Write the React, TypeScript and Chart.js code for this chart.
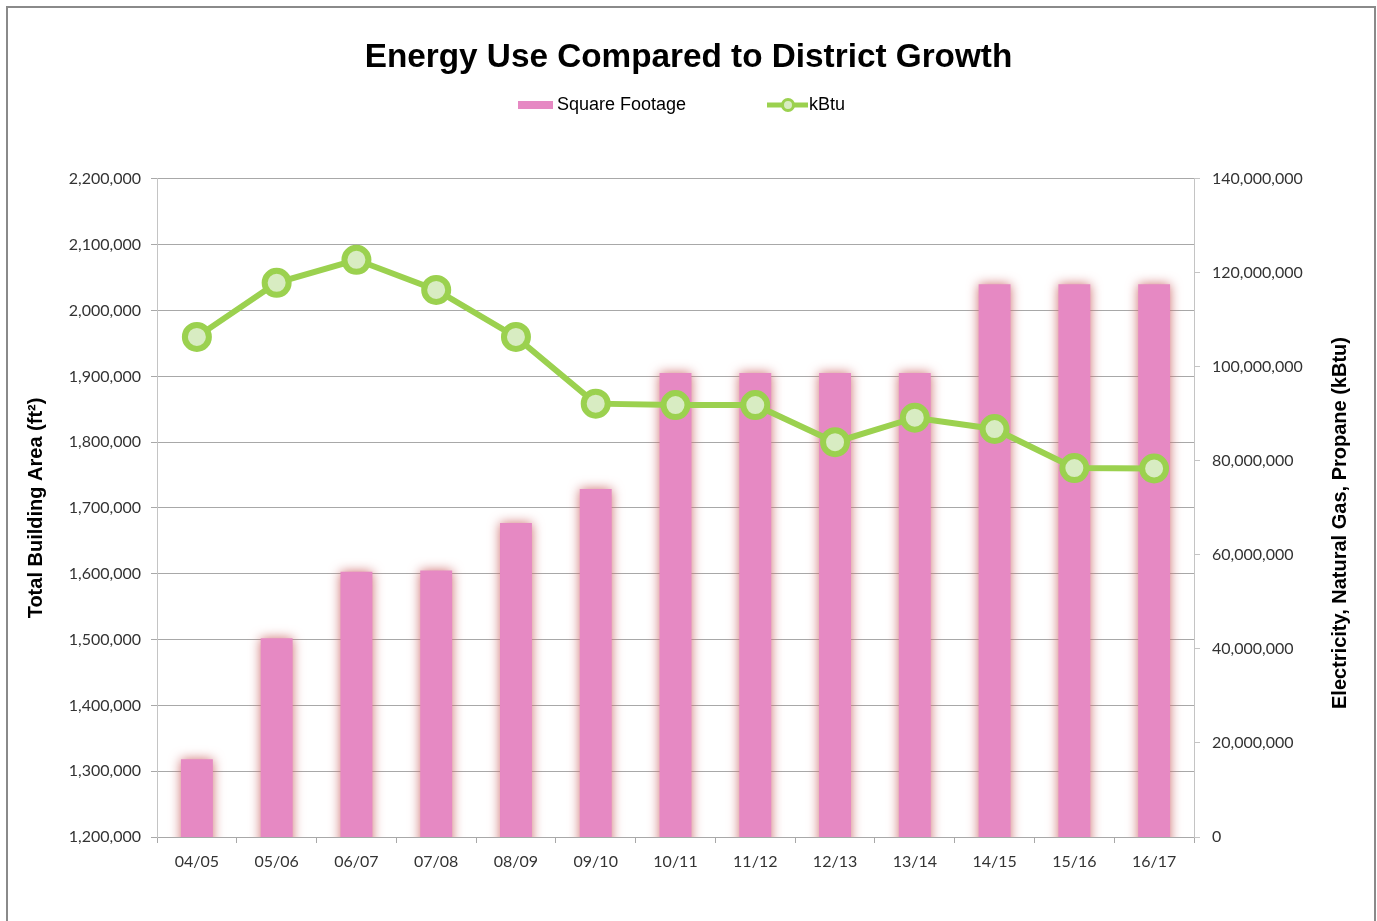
import React, { useEffect, useRef } from 'react';
import { Chart, registerables } from 'chart.js';

Chart.register(...registerables);

const categories = ['04/05', '05/06', '06/07', '07/08', '08/09', '09/10', '10/11', '11/12', '12/13', '13/14', '14/15', '15/16', '16/17'];
const squareFootage = [1318000, 1502000, 1603000, 1605000, 1677000, 1729000, 1905000, 1905000, 1905000, 1905000, 2040000, 2040000, 2040000];
const kBtu = [106400000, 117900000, 122800000, 116400000, 106400000, 92200000, 91900000, 91900000, 84000000, 89200000, 86800000, 78500000, 78400000];

const titleText = 'Energy Use Compared to District Growth';
const leftAxisTitle = 'Total Building Area (ft²)';
const rightAxisTitle = 'Electricity, Natural Gas, Propane (kBtu)';
const seriesNames = ['Square Footage', 'kBtu'];

const PINK = '#E689C3';
const GREEN = '#9BD14F';
const LIGHT_GREEN = '#D8ECC2';
const GRID = '#a8a8a8';
const AXIS_LINE = '#c4c4c4';
const TICK_FONT = { family: 'Lato', size: 16 };
const fmt = (v: number) => Number(v).toLocaleString('en-US');

const barGlow = {
  id: 'barGlow',
  beforeDatasetDraw(chart: any, args: any) {
    if (chart.data.datasets[args.index].type === 'bar') {
      const ctx = chart.ctx;
      ctx.save();
      ctx.shadowColor = 'rgba(205,110,110,1)';
      ctx.shadowBlur = 12;
    }
  },
  afterDatasetDraw(chart: any, args: any) {
    if (chart.data.datasets[args.index].type === 'bar') {
      chart.ctx.restore();
    }
  },
};

const extras = {
  id: 'extras',
  afterDraw(chart: any) {
    const ctx = chart.ctx;
    const ds = chart.data.datasets;
    ctx.save();
    // legend
    ctx.font = '18px "Liberation Sans", Arial, sans-serif';
    ctx.textBaseline = 'middle';
    ctx.textAlign = 'left';
    const ly = 105;
    ctx.fillStyle = ds[0].backgroundColor;
    ctx.fillRect(518, ly - 4, 35, 8);
    ctx.fillStyle = '#000';
    ctx.fillText(ds[0].label, 557, ly);
    ctx.strokeStyle = ds[1].borderColor;
    ctx.lineWidth = 5;
    ctx.beginPath();
    ctx.moveTo(767, ly);
    ctx.lineTo(808, ly);
    ctx.stroke();
    ctx.beginPath();
    ctx.arc(788, ly, 5.5, 0, Math.PI * 2);
    ctx.fillStyle = ds[1].pointBackgroundColor;
    ctx.fill();
    ctx.lineWidth = 3;
    ctx.stroke();
    ctx.fillStyle = '#000';
    ctx.fillText(ds[1].label, 809, ly);
    // right axis title, reading bottom to top
    ctx.font = 'bold 20px "Liberation Sans", Arial, sans-serif';
    ctx.textAlign = 'center';
    ctx.translate(1340, 523);
    ctx.rotate(-Math.PI / 2);
    ctx.fillText(rightAxisTitle, 0, 0);
    ctx.restore();
  },
};

export default function App() {
  const ref = useRef<HTMLCanvasElement>(null);

  useEffect(() => {
    if (!ref.current) return;
    const chart = new Chart(ref.current, {
      data: {
        labels: categories,
        datasets: [
          {
            type: 'bar',
            label: seriesNames[0],
            data: squareFootage,
            backgroundColor: PINK,
            yAxisID: 'y',
            barPercentage: 0.4,
            categoryPercentage: 1,
            order: 2,
          } as any,
          {
            type: 'line',
            label: seriesNames[1],
            data: kBtu,
            borderColor: GREEN,
            borderWidth: 6,
            pointRadius: 12,
            pointBorderWidth: 6,
            pointBackgroundColor: LIGHT_GREEN,
            pointBorderColor: GREEN,
            tension: 0,
            yAxisID: 'y1',
            order: 1,
          } as any,
        ],
      },
      options: {
        animation: false,
        responsive: false,
        devicePixelRatio: 1,
        layout: { padding: 0 },
        plugins: {
          legend: { display: false },
          tooltip: { enabled: false },
          title: {
            display: true,
            text: titleText,
            color: '#000',
            font: { family: '"Liberation Sans", Arial, sans-serif', size: 33.3, weight: 'bold' },
            padding: { top: 38, bottom: 101 },
          },
        },
        scales: {
          x: {
            type: 'category',
            offset: true,
            grid: { offset: true, drawOnChartArea: false, color: GRID, tickLength: 6 },
            border: { color: GRID },
            ticks: { color: '#333', font: TICK_FONT, padding: 9, maxRotation: 0 },
            afterFit: (s: any) => { s.height = 84; },
          },
          y: {
            position: 'left',
            min: 1200000,
            max: 2200000,
            ticks: { stepSize: 100000, color: '#333', font: TICK_FONT, padding: 10, callback: (v: any) => fmt(v) },
            grid: { color: GRID, tickLength: 6 },
            border: { color: AXIS_LINE },
            title: {
              display: true,
              text: leftAxisTitle,
              color: '#000',
              font: { family: '"Liberation Sans", Arial, sans-serif', size: 20, weight: 'bold' },
              padding: { top: 24, bottom: 0 },
            },
            afterFit: (s: any) => { s.width = 157; },
          },
          y1: {
            position: 'right',
            min: 0,
            max: 140000000,
            ticks: { stepSize: 20000000, color: '#333', font: TICK_FONT, padding: 12, callback: (v: any) => fmt(v) },
            grid: { drawOnChartArea: false, color: AXIS_LINE, tickLength: 6 },
            border: { color: AXIS_LINE },
            afterFit: (s: any) => { s.width = 183; },
          },
        },
      } as any,
      plugins: [barGlow, extras],
    });
    return () => chart.destroy();
  }, []);

  return (
    <div style={{ position: 'fixed', left: 0, top: 0, width: 1377, height: 921, background: '#fff', overflow: 'hidden' }}>
      <div
        style={{
          position: 'absolute',
          left: 6,
          top: 6,
          width: 1370,
          height: 1000,
          border: '2px solid #8a8a8a',
          boxSizing: 'border-box',
        }}
      />
      <canvas ref={ref} width={1377} height={921} style={{ position: 'absolute', left: 0, top: 0, display: 'block' }} />
    </div>
  );
}
